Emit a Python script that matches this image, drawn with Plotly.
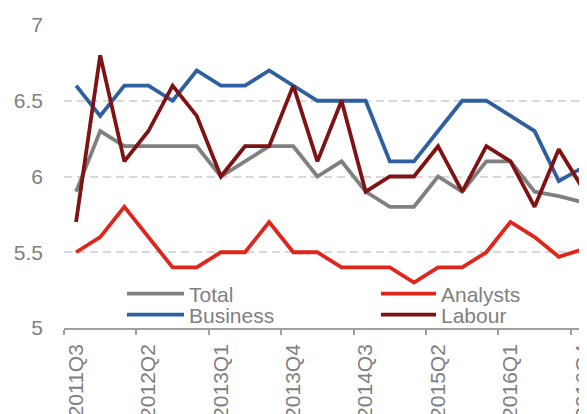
import plotly.graph_objects as go

quarters = ["2011Q3", "2011Q4", "2012Q1", "2012Q2", "2012Q3", "2012Q4",
            "2013Q1", "2013Q2", "2013Q3", "2013Q4", "2014Q1", "2014Q2",
            "2014Q3", "2014Q4", "2015Q1", "2015Q2", "2015Q3", "2015Q4",
            "2016Q1", "2016Q2", "2016Q3", "2016Q4"]

total = [5.9, 6.3, 6.2, 6.2, 6.2, 6.2, 6.0, 6.1, 6.2, 6.2, 6.0, 6.1,
         5.9, 5.8, 5.8, 6.0, 5.9, 6.1, 6.1, 5.9, 5.87, 5.83]
business = [6.6, 6.4, 6.6, 6.6, 6.5, 6.7, 6.6, 6.6, 6.7, 6.6, 6.5, 6.5,
            6.5, 6.1, 6.1, 6.3, 6.5, 6.5, 6.4, 6.3, 5.97, 6.06]
analysts = [5.5, 5.6, 5.8, 5.6, 5.4, 5.4, 5.5, 5.5, 5.7, 5.5, 5.5, 5.4,
            5.4, 5.4, 5.3, 5.4, 5.4, 5.5, 5.7, 5.6, 5.47, 5.52]
labour = [5.7, 6.8, 6.1, 6.3, 6.6, 6.4, 6.0, 6.2, 6.2, 6.6, 6.1, 6.5,
          5.9, 6.0, 6.0, 6.2, 5.9, 6.2, 6.1, 5.8, 6.18, 5.92]

FONT = "Liberation Sans, Arial, sans-serif"
TXT = "#808080"
FS = 21
# page has an 8px body margin; figure sized to fill the rest of the window
W, H = 579, 406
ML, MR, MT, MB = 56, 0, 17, 86
PW, PH = W - ML - MR, H - MT - MB
PAGE_L, PAGE_B = 64, 8 + H - MB  # plot-area left / bottom in page pixels

series = [
    ("Total", total, "#808080", "legend"),
    ("Business", business, "#2F5F9E", "legend3"),
    ("Analysts", analysts, "#E0251B", "legend2"),
    ("Labour", labour, "#7F1212", "legend4"),
]

fig = go.Figure()
for name, vals, col, lg in series:
    fig.add_trace(go.Scatter(
        x=quarters, y=vals, name=name, mode="lines",
        line=dict(color=col, width=3.8), legend=lg,
    ))

def leg(xpx, ypx, iw):
    return dict(
        x=(xpx - PAGE_L) / PW, y=(PAGE_B - ypx) / PH, xref="paper", yref="paper",
        xanchor="left", yanchor="middle", itemwidth=iw,
        bgcolor="rgba(0,0,0,0)", borderwidth=0,
        font=dict(family=FONT, size=FS, color=TXT),
    )

fig.update_layout(
    width=W, height=H,
    margin=dict(l=ML, r=MR, t=MT, b=MB, autoexpand=False),
    paper_bgcolor="white", plot_bgcolor="white",
    showlegend=True,
    legend=leg(122, 294, 57),
    legend2=leg(376, 294, 55),
    legend3=leg(122, 315, 57),
    legend4=leg(376, 315, 55),
    xaxis=dict(
        type="category", range=[-0.5, 21.17], dtick=3,
        tickson="boundaries", ticks="outside", ticklen=5, tickwidth=1.5,
        tickcolor="#A0A0A0", showline=True, linecolor="#A0A0A0", linewidth=1.5,
        showgrid=False, tickangle=-90, ticklabelstandoff=6,
        tickfont=dict(family=FONT, size=FS, color=TXT),
    ),
    yaxis=dict(
        range=[5, 7], dtick=0.5, showline=False, ticks="",
        showgrid=True, gridcolor="#D9D9D9", gridwidth=1.5, griddash="8px,5px",
        zeroline=False, ticklabelstandoff=20,
        tickfont=dict(family=FONT, size=FS, color=TXT),
    ),
)

fig.write_html("out.html")
